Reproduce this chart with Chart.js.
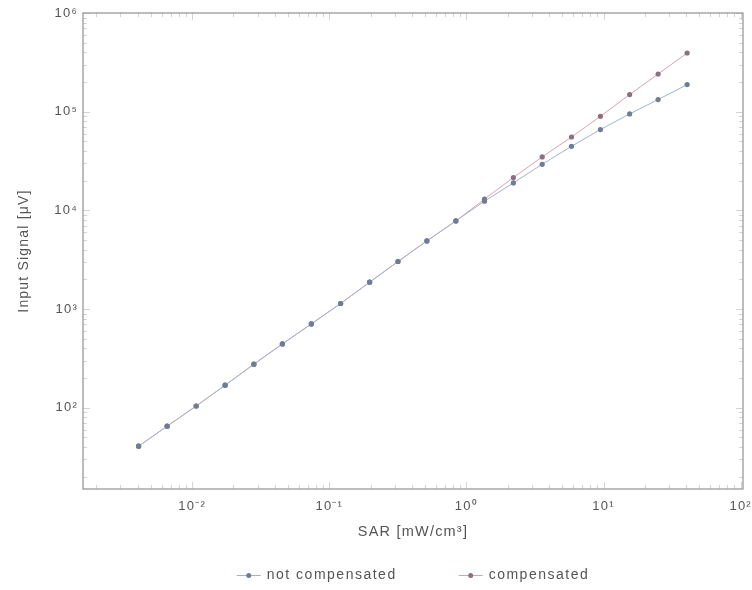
<!DOCTYPE html>
<html>
<head>
<meta charset="utf-8">
<script src="https://cdn.jsdelivr.net/npm/chart.js@4/dist/chart.umd.min.js"></script>
<style>
  html, body { margin: 0; padding: 0; background: #ffffff; }
  #wrap { width: 752px; height: 590px; }
</style>
</head>
<body>
<div id="wrap"><canvas id="c" width="752" height="590"></canvas></div>
<script>
// SAR values (mW/cm^3) of the measurement steps
const sar = [0.00407, 0.00657, 0.0107, 0.0174, 0.0282, 0.0455, 0.0740, 0.121, 0.197, 0.317,
             0.515, 0.838, 1.355, 2.20, 3.57, 5.84, 9.49, 15.5, 25.0, 40.7];

// Input signal (µV) without and with compensation
const notCompensated = [40.7, 65, 104, 169, 276, 443, 706, 1137, 1870, 3030,
                        4900, 7810, 12400, 18950, 29300, 44600, 65900, 94800, 132700, 188000];
const compensated    = [40.7, 65, 104, 169, 276, 443, 706, 1137, 1870, 3030,
                        4900, 7810, 13000, 21500, 34800, 55400, 89800, 149000, 241000, 393000];

// Decade tick positions on both axes
const xTicks = [0.01, 0.1, 1, 10, 100];
const yTicks = [100, 1000, 10000, 100000, 1000000];

const seriesNames = ['not compensated', 'compensated'];

const SUP = { '-': '\u207B', '0': '\u2070', '1': '\u00B9', '2': '\u00B2', '3': '\u00B3',
              '4': '\u2074', '5': '\u2075', '6': '\u2076', '7': '\u2077', '8': '\u2078', '9': '\u2079' };
function powerLabel(v) {
  const e = String(Math.round(Math.log10(v)));
  return '10' + e.split('').map(ch => SUP[ch]).join('');
}

const blueLine = '#9fb3d4', blueMark = '#6d7d96';
const pinkLine = '#d9a2b0', pinkMark = '#8d7080';
const textCol = '#555555';
const FONT = 'Liberation Sans';
const SPACING = '1.2px';

// Wide letter spacing for every text the chart draws
const spacingPlugin = {
  id: 'spacing',
  beforeDraw(chart) { chart.ctx.letterSpacing = SPACING; }
};

// Frame around the plot area with small inward ticks
const framePlugin = {
  id: 'frame',
  afterDatasetsDraw(chart) {
    const { ctx, chartArea: a, scales } = chart;
    ctx.save();
    ctx.strokeStyle = '#d4d4d4';
    ctx.lineWidth = 1;
    const xs = scales.x, ys = scales.y;
    for (let k = -3; k <= 2; k++) {
      for (let m = 1; m <= 9; m++) {
        const v = m * Math.pow(10, k);
        if (v < xs.min || v > xs.max) continue;
        const px = Math.round(xs.getPixelForValue(v)) + 0.5;
        const len = m === 1 ? 7 : 4;
        ctx.beginPath();
        ctx.moveTo(px, a.bottom); ctx.lineTo(px, a.bottom - len);
        ctx.moveTo(px, a.top); ctx.lineTo(px, a.top + len);
        ctx.stroke();
      }
    }
    for (let k = 1; k <= 6; k++) {
      for (let m = 1; m <= 9; m++) {
        const v = m * Math.pow(10, k);
        if (v < ys.min || v > ys.max) continue;
        const py = Math.round(ys.getPixelForValue(v)) + 0.5;
        const len = m === 1 ? 7 : 4;
        ctx.beginPath();
        ctx.moveTo(a.left, py); ctx.lineTo(a.left + len, py);
        ctx.moveTo(a.right, py); ctx.lineTo(a.right - len, py);
        ctx.stroke();
      }
    }
    ctx.strokeStyle = '#9a9a9a';
    ctx.lineWidth = 1.3;
    ctx.strokeRect(a.left, a.top, a.right - a.left, a.bottom - a.top);
    ctx.restore();
  }
};

// Legend row under the axis: line-and-dot sample followed by the series name
const legendPlugin = {
  id: 'bottomLegend',
  afterDraw(chart) {
    const { ctx, chartArea: a } = chart;
    const items = chart.data.datasets;
    const sampleW = 24, textGap = 6, itemGap = 62, y = 575;
    ctx.save();
    ctx.letterSpacing = '1.5px';
    ctx.font = '14px "' + FONT + '"';
    ctx.textBaseline = 'middle';
    ctx.textAlign = 'left';
    const widths = items.map(ds => ctx.measureText(ds.label).width);
    const total = widths.reduce((s, w) => s + sampleW + textGap + w, 0) + itemGap * (items.length - 1);
    let x = (a.left + a.right) / 2 - total / 2;
    items.forEach((ds, i) => {
      ctx.strokeStyle = ds.borderColor;
      ctx.lineWidth = 1;
      ctx.beginPath(); ctx.moveTo(x, y + 0.5); ctx.lineTo(x + sampleW, y + 0.5); ctx.stroke();
      ctx.fillStyle = ds.pointBackgroundColor;
      ctx.beginPath(); ctx.arc(x + sampleW / 2, y + 0.5, 2.5, 0, Math.PI * 2); ctx.fill();
      ctx.fillStyle = textCol;
      ctx.fillText(ds.label, x + sampleW + textGap, y);
      x += sampleW + textGap + widths[i] + itemGap;
    });
    ctx.restore();
  }
};

const toPoints = ys => sar.map((x, i) => ({ x: x, y: ys[i] }));

new Chart(document.getElementById('c'), {
  type: 'line',
  data: {
    datasets: [
      {
        label: seriesNames[0],
        data: toPoints(notCompensated),
        borderColor: blueLine,
        backgroundColor: blueMark,
        pointBackgroundColor: blueMark,
        pointBorderColor: blueMark,
        borderWidth: 1,
        pointRadius: 2.6,
        pointBorderWidth: 0,
        tension: 0,
        fill: false
      },
      {
        label: seriesNames[1],
        data: toPoints(compensated),
        borderColor: pinkLine,
        backgroundColor: pinkMark,
        pointBackgroundColor: pinkMark,
        pointBorderColor: pinkMark,
        borderWidth: 1,
        pointRadius: 2.6,
        pointBorderWidth: 0,
        tension: 0,
        fill: false
      }
    ]
  },
  options: {
    responsive: false,
    animation: false,
    layout: { padding: { left: 0, right: 9, top: 13, bottom: 49 } },
    scales: {
      x: {
        type: 'logarithmic',
        min: 0.0016,
        max: 104,
        afterBuildTicks: s => { s.ticks = xTicks.map(v => ({ value: v })); },
        afterFit: s => { s.height = 52; s.paddingLeft = 0; s.paddingRight = 0; },
        grid: { display: false, drawTicks: false },
        border: { display: false },
        ticks: {
          color: textCol,
          font: { family: FONT, size: 13 },
          padding: 10,
          maxRotation: 0,
          autoSkip: false,
          callback: v => powerLabel(v)
        },
        title: {
          display: true,
          text: 'SAR [mW/cm\u00B3]',
          color: textCol,
          font: { family: FONT, size: 14.5 },
          padding: { top: 0, bottom: 0 }
        }
      },
      y: {
        type: 'logarithmic',
        min: 15,
        max: 1000000,
        afterBuildTicks: s => { s.ticks = yTicks.map(v => ({ value: v })); },
        afterFit: s => { s.width = 83; },
        grid: { display: false, drawTicks: false },
        border: { display: false },
        ticks: {
          color: textCol,
          font: { family: FONT, size: 13 },
          padding: 5,
          autoSkip: false,
          callback: v => powerLabel(v)
        },
        title: {
          display: true,
          text: 'Input Signal [\u03BCV]',
          color: textCol,
          font: { family: FONT, size: 14 },
          padding: { top: 16, bottom: 0 }
        }
      }
    },
    plugins: {
      legend: { display: false },
      tooltip: { enabled: false }
    }
  },
  plugins: [spacingPlugin, framePlugin, legendPlugin]
});
</script>
</body>
</html>
